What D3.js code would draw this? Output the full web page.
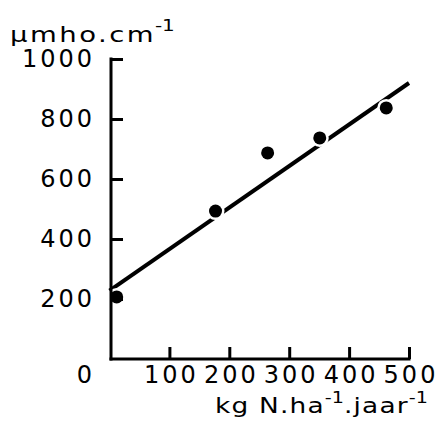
<!DOCTYPE html>
<html>
<head>
<meta charset="utf-8">
<script src="https://cdn.jsdelivr.net/npm/d3@7"></script>
<style>
  body { margin: 0; background: #fff; }
  svg { display: block; }
  text { font-family: "DejaVu Sans", sans-serif; fill: #000; }
</style>
</head>
<body>
<div class="js-chart"></div>
<script>
// N-gift (kg N/ha/jaar) tegen geleidbaarheid (umho/cm)
const nGift = [12, 177, 264, 351, 462];
const geleiding = [207, 493, 687, 737, 837];
const fitLine = [[0, 228], [500, 920]];
const xTicks = [100, 200, 300, 400, 500];
const yTicks = [200, 400, 600, 800, 1000];

const width = 438
    , height = 426
    ;

const x = d3.scaleLinear().domain([0, 500]).range([109.5, 409]);
const y = d3.scaleLinear().domain([0, 1000]).range([359, 59]);

const svg = d3.select(".js-chart")
  .append("svg")
  .attr("width", width)
  .attr("height", height);

// regression line
svg.append("path")
  .datum(fitLine)
  .attr("fill", "none")
  .attr("stroke", "#000")
  .attr("stroke-width", 4)
  .attr("d", d3.line().x(d => x(d[0])).y(d => y(d[1])));

// white halo round each point cuts the line
svg.append("g")
  .selectAll("circle")
  .data(nGift)
  .join("circle")
  .attr("cx", d => x(d))
  .attr("cy", (d, i) => y(geleiding[i]))
  .attr("r", 9)
  .attr("fill", "#fff");

// axes, ticks point inward
const yAxis = svg.append("g")
  .attr("transform", "translate(111,0)")
  .call(d3.axisLeft(y)
    .tickValues(yTicks)
    .tickSizeInner(-12)
    .tickSizeOuter(0)
    .tickPadding(16)
    .tickFormat(d3.format("d")));

const xAxis = svg.append("g")
  .attr("transform", "translate(0,359)")
  .call(d3.axisBottom(x)
    .tickValues(xTicks)
    .tickSizeInner(-12)
    .tickSizeOuter(0)
    .tickPadding(7)
    .tickFormat(d3.format("d")));

svg.selectAll(".domain").attr("stroke", "#000").attr("stroke-width", 3);
svg.selectAll(".tick line").attr("stroke", "#000").attr("stroke-width", 3);
svg.selectAll(".tick text")
  .style("font-size", "24px")
  .style("letter-spacing", "3px");
xAxis.selectAll(".tick text").attr("dx", 1.5);
xAxis.select(".domain").attr("d", `M${x(0)},0H${x(500) + 1.5}`);
yAxis.select(".domain").attr("d", `M0,${y(0) + 1.5}V${y(1000) - 1.5}`);

svg.append("text")
  .attr("x", 92)
  .attr("y", 383)
  .attr("text-anchor", "end")
  .style("font-size", "24px")
  .text("0");

// measured points
svg.append("g")
  .selectAll("circle")
  .data(nGift)
  .join("circle")
  .attr("cx", d => x(d))
  .attr("cy", (d, i) => y(geleiding[i]))
  .attr("r", 6.5)
  .attr("fill", "#000");

// axis titles, wide letters like the original lettering
const yTitle = svg.append("text")
  .attr("transform", "translate(10,42) scale(1.25,1)")
  .style("font-size", "22px")
  .style("letter-spacing", "2px");
yTitle.append("tspan").text("µmho.cm");
yTitle.append("tspan").attr("dx", -1).attr("dy", -11).style("font-size", "16px").style("letter-spacing", "0px").text("-1");

const xTitle = svg.append("text")
  .attr("transform", "translate(428,413) scale(1.2,1)")
  .attr("text-anchor", "end")
  .style("font-size", "22px")
  .style("letter-spacing", "1px");
xTitle.append("tspan").text("kg N.ha");
xTitle.append("tspan").attr("dy", -10).style("font-size", "16px").style("letter-spacing", "0px").text("-1");
xTitle.append("tspan").attr("dy", 10).text(".jaar");
xTitle.append("tspan").attr("dy", -10).style("font-size", "16px").style("letter-spacing", "0px").text("-1");
</script>
</body>
</html>
